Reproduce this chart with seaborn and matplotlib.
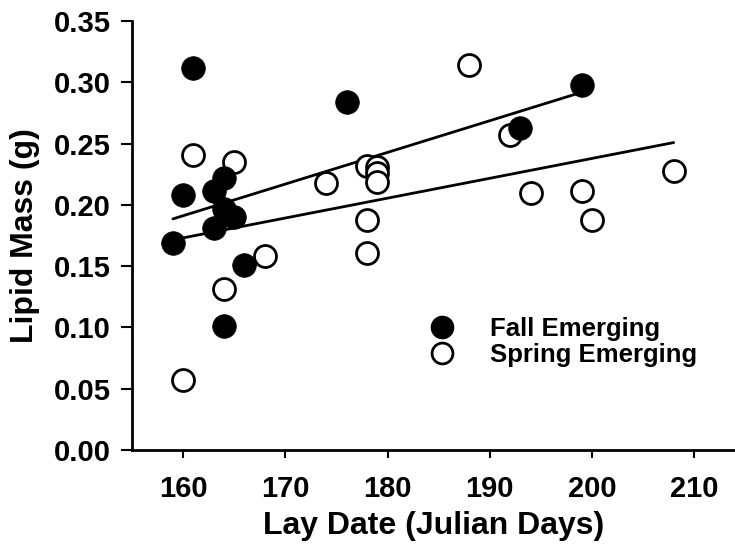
import matplotlib
matplotlib.use("Agg")
import matplotlib.pyplot as plt
import seaborn as sns
from matplotlib.lines import Line2D

# Lay date (Julian days) and lipid mass (g) per group
fall_day = [159, 160, 161, 163, 163, 164, 164, 164, 165, 166, 176, 193, 199]
fall_lipid = [0.169, 0.208, 0.312, 0.211, 0.181, 0.222, 0.197, 0.101,
              0.190, 0.151, 0.284, 0.263, 0.298]

spring_day = [160, 161, 164, 165, 168, 174, 178, 178, 178, 179, 179, 179,
              188, 192, 194, 199, 200, 208]
spring_lipid = [0.057, 0.241, 0.131, 0.235, 0.158, 0.218, 0.232, 0.188,
                0.161, 0.231, 0.226, 0.219, 0.314, 0.257, 0.210, 0.211,
                0.188, 0.228]

x_ticks = [160, 170, 180, 190, 200, 210]
y_ticks = [0.00, 0.05, 0.10, 0.15, 0.20, 0.25, 0.30, 0.35]
labels = ["Fall Emerging", "Spring Emerging"]

sns.set_style("ticks")
plt.rcParams["font.family"] = ["Liberation Sans", "DejaVu Sans"]
plt.rcParams["font.weight"] = "bold"
plt.rcParams["text.color"] = "black"
plt.rcParams["axes.labelcolor"] = "black"
plt.rcParams["xtick.color"] = "black"
plt.rcParams["ytick.color"] = "black"

fig = plt.figure(figsize=(7.35, 5.5), dpi=100)
ax = fig.add_axes([0.1796, 0.1818, 0.8204, 0.78])

# regression lines (over the data range only)
sns.regplot(x=fall_day, y=fall_lipid, ax=ax, scatter=False, ci=None,
            truncate=True, line_kws={"color": "black", "lw": 2})
sns.regplot(x=spring_day, y=spring_lipid, ax=ax, scatter=False, ci=None,
            truncate=True, line_kws={"color": "black", "lw": 2})

sns.scatterplot(x=spring_day, y=spring_lipid, ax=ax, s=250, color="white",
                edgecolor="black", linewidth=2, zorder=3)
sns.scatterplot(x=fall_day, y=fall_lipid, ax=ax, s=290, color="black",
                edgecolor="black", linewidth=0.5, zorder=4)

ax.set_xlim(155, 214)
ax.set_ylim(0, 0.35)
ax.set_xticks(x_ticks)
ax.set_yticks(y_ticks)
ax.set_yticklabels([f"{v:.2f}" for v in y_ticks])
ax.tick_params(axis="both", labelsize=21, width=1.5, direction="out")
ax.tick_params(axis="y", length=8, pad=7)
ax.tick_params(axis="x", length=6, pad=12)
for lab in ax.get_xticklabels() + ax.get_yticklabels():
    lab.set_fontweight("bold")

for side in ["top", "right"]:
    ax.spines[side].set_visible(False)
for side in ["left", "bottom"]:
    ax.spines[side].set_linewidth(2)
    ax.spines[side].set_color("black")

ax.set_xlabel("Lay Date (Julian Days)", fontsize=23, fontweight="bold", labelpad=6)
ax.set_ylabel("Lipid Mass (g)", fontsize=23, fontweight="bold", labelpad=10)

handles = [
    Line2D([], [], ls="none", marker="o", markersize=16, markerfacecolor="black",
           markeredgecolor="black"),
    Line2D([], [], ls="none", marker="o", markersize=15, markerfacecolor="white",
           markeredgecolor="black", markeredgewidth=2),
]
ax.legend(handles, labels, loc="upper left", bbox_to_anchor=(0.567, 0.447),
          bbox_transform=fig.transFigure, frameon=False, borderpad=0,
          handlelength=1.0, handletextpad=1.37, labelspacing=0.08,
          prop={"size": 18.5, "weight": "bold"})

fig.savefig("out.png", dpi=100)
